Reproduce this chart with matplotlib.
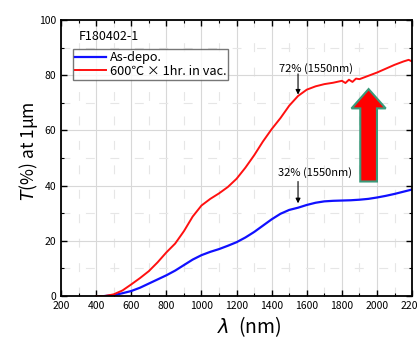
import matplotlib
matplotlib.use("Agg")
import matplotlib.pyplot as plt
from matplotlib.ticker import MultipleLocator
from matplotlib.patches import FancyArrow

plt.rcParams['font.family'] = ['Noto Sans CJK JP', 'DejaVu Sans']

# wavelength (nm) and transmittance (%)
wl_red = [400, 450, 500, 550, 600, 650, 700, 750, 800, 850, 900, 950, 1000, 1050,
          1100, 1150, 1200, 1250, 1300, 1350, 1400, 1450, 1500, 1550, 1600, 1650,
          1700, 1750, 1800, 1820, 1840, 1860, 1880, 1900, 1950, 2000, 2050, 2100,
          2150, 2180, 2200]
t_red = [0.0, 0.0, 0.6, 2.0, 4.2, 6.5, 9.0, 12.2, 15.8, 19.0, 23.5, 28.8, 32.8, 35.2,
         37.2, 39.5, 42.5, 46.5, 51.0, 56.0, 60.5, 64.5, 69.0, 72.5, 74.8, 76.0,
         76.8, 77.3, 78.0, 77.2, 78.4, 77.6, 78.8, 78.6, 79.8, 81.0, 82.4, 83.8,
         85.0, 85.6, 85.0]

wl_blue = [450, 500, 550, 600, 650, 700, 750, 800, 850, 900, 950, 1000, 1050, 1100,
           1150, 1200, 1250, 1300, 1350, 1400, 1450, 1500, 1550, 1600, 1650, 1700,
           1750, 1800, 1850, 1900, 1950, 2000, 2050, 2100, 2150, 2200]
t_blue = [0.0, 0.3, 1.0, 1.8, 3.0, 4.5, 6.0, 7.5, 9.2, 11.2, 13.2, 14.8, 16.0, 17.0,
          18.2, 19.5, 21.2, 23.2, 25.5, 27.8, 29.8, 31.2, 32.0, 33.0, 33.8, 34.3,
          34.5, 34.6, 34.7, 34.9, 35.2, 35.7, 36.3, 37.0, 37.8, 38.6]

fig = plt.figure(figsize=(4.18, 3.41), dpi=100)
ax = fig.add_axes([0.146, 0.132, 0.84, 0.809])

ax.plot(wl_blue, t_blue, color='#1010ff', lw=1.6, label='As-depo.')
ax.plot(wl_red, t_red, color='#ff1010', lw=1.4, label='600\u2103 \u00d7 1hr. in vac.')

ax.set_xlim(200, 2200)
ax.set_ylim(0, 100)
ax.xaxis.set_major_locator(MultipleLocator(200))
ax.xaxis.set_minor_locator(MultipleLocator(100))
ax.yaxis.set_major_locator(MultipleLocator(20))
ax.yaxis.set_minor_locator(MultipleLocator(10))
ax.tick_params(which='both', direction='in', top=True, right=True, labelsize=7.5)
ax.tick_params(which='major', length=4, width=1)
ax.tick_params(which='minor', length=2, width=0.8)
for s in ax.spines.values():
    s.set_linewidth(1.3)

ax.grid(which='major', color='#d8d8d8', lw=0.8)
ax.grid(which='minor', color='#e6e6e6', lw=0.8, linestyle=(0, (8, 14)))
ax.set_axisbelow(True)

ax.set_xlabel('$\\lambda$  (nm)', fontsize=14, va='center')
ax.xaxis.set_label_coords(0.535, -0.112)
ax.set_ylabel('$T$(%) at 1\u03bcm', fontsize=12.5, va='center')
ax.yaxis.set_label_coords(-0.094, 0.525)

ax.text(0.05, 0.94, 'F180402-1', transform=ax.transAxes, fontsize=9, va='center')
ax.legend(loc='upper left', bbox_to_anchor=(0.035, 0.895), fontsize=9.2,
          frameon=True, fancybox=False, edgecolor='#555555', borderpad=0.15,
          handlelength=2.4, handletextpad=0.3, labelspacing=0.05, borderaxespad=0)

# 1550 nm markers
ax.text(1655, 82.6, '72% (1550nm)', fontsize=8, ha='center', va='center')
ax.annotate('', xy=(1550, 73.0), xytext=(1550, 80.5),
            arrowprops=dict(arrowstyle='-|>', color='black', lw=0.8,
                            shrinkA=0, shrinkB=0, mutation_scale=7))
ax.text(1645, 44.6, '32% (1550nm)', fontsize=8, ha='center', va='center')
ax.annotate('', xy=(1550, 33.6), xytext=(1550, 41.5),
            arrowprops=dict(arrowstyle='-|>', color='black', lw=0.8,
                            shrinkA=0, shrinkB=0, mutation_scale=7))

big_arrow = FancyArrow(1952, 41.5, 0, 33.5, width=95, head_width=195,
                       head_length=7, length_includes_head=True,
                       facecolor='#ff0000', edgecolor='#3a9a7a', lw=1.5, zorder=5)
ax.add_patch(big_arrow)

fig.savefig('out.png', dpi=100)
